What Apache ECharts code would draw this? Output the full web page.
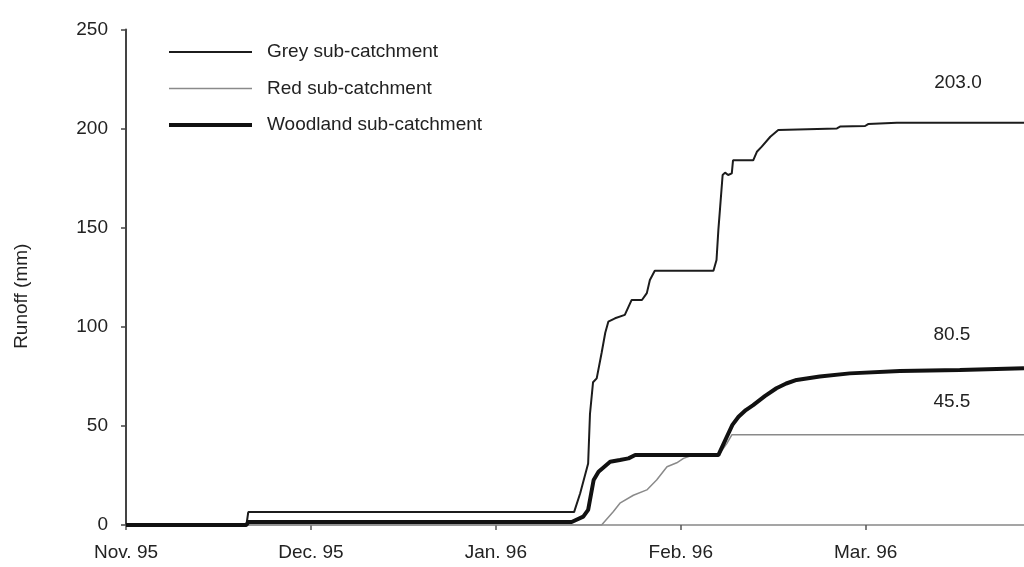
<!DOCTYPE html>
<html>
<head>
<meta charset="utf-8">
<script src="https://cdn.jsdelivr.net/npm/echarts@6/dist/echarts.min.js"></script>
<style>
html,body{margin:0;padding:0;background:#fff;}
#chart{width:1024px;height:567px;}
</style>
</head>
<body>
<div id="chart"></div>
<script>
// x values: days since 1 Nov 1995 (axis months drawn evenly, 30.25 days each)
const monthLabels = ['Nov. 95', 'Dec. 95', 'Jan. 96', 'Feb. 96', 'Mar. 96'];
const seriesNames = ['Grey sub-catchment', 'Red sub-catchment', 'Woodland sub-catchment'];
const finalLabels = [203.0, 45.5, 80.5];

const greyData = [
  [0, 0], [19.7, 0], [20, 6.5], [73.3, 6.5], [74.3, 16], [75.6, 31], [75.9, 56],
  [76.4, 72], [77.0, 74], [77.8, 86.8], [78.4, 97], [78.9, 102.6], [80.0, 104.3],
  [81.6, 106], [82.7, 113.5], [84.4, 113.5], [85.2, 117], [85.7, 123.6], [86.5, 128.3],
  [96.1, 128.3], [96.6, 133.7], [96.9, 148.8], [97.2, 160.6], [97.6, 176.6], [98.0, 177.8],
  [98.5, 176.6], [99.1, 177.4], [99.3, 184], [102.6, 184], [103.2, 188.3], [104.0, 190.9],
  [105.4, 195.9], [106.7, 199.3], [107.0, 200.1], [116.3, 200.1], [116.8, 201],
  [120.9, 201.3], [121.4, 202.3], [126.1, 203], [146.9, 203]
];
const redData = [
  [0, 0], [77.8, 0], [79.7, 6.7], [80.8, 11], [83.0, 15], [85.2, 17.7], [86.8, 22.7],
  [88.5, 29.4], [90.1, 31.4], [91.2, 33.6], [92.3, 34.8], [96.9, 35.0], [98.3, 41.2],
  [98.5, 40.5], [99.1, 45.5], [146.9, 45.5]
];
const woodlandData = [
  [0, 0], [19.7, 0], [20, 1.5], [72.9, 1.5], [74.8, 4.2], [75.6, 7.6], [76.5, 22.7],
  [77.3, 26.9], [77.5, 27.7], [79.2, 31.9], [80.8, 32.8], [82.2, 33.6], [83.3, 35.3],
  [96.9, 35.3], [98.3, 44.6], [99.2, 50.5], [100.2, 54.6], [101.4, 58], [102.6, 60.5],
  [104.5, 65], [106.4, 69], [108.0, 71.4], [109.7, 73.2], [113.5, 74.9], [118.4, 76.5],
  [126.6, 77.7], [136.4, 78.2], [136.6, 79.1], [146.9, 79.1]
];

const FONT = "'Liberation Sans', Arial, Helvetica, sans-serif";
const MONTH = 30.25;
const lineColors = ['#1c1c1c', '#8a8a8a', '#111'];
const lineWidths = [2, 1.5, 4];

function endMark(data, label, xPos, offY) {
  const last = data[data.length - 1];
  return {
    symbol: 'circle', symbolSize: 0, silent: true,
    itemStyle: { color: 'rgba(0,0,0,0)' },
    label: {
      show: true, position: 'inside', offset: [0, offY],
      formatter: label.toFixed(1), color: '#222', fontSize: 19, fontFamily: FONT
    },
    data: [{ coord: [xPos, last[1]] }]
  };
}

const chart = echarts.init(document.getElementById('chart'));
chart.setOption({
  animation: false,
  backgroundColor: '#fff',
  grid: { left: 126, right: 0, top: 29.5, bottom: 42 },
  legend: {
    orient: 'vertical', left: 167, top: 42, padding: 0,
    itemWidth: 83, itemHeight: 20, itemGap: 16.5,
    selectedMode: false,
    itemStyle: { opacity: 0 },
    textStyle: { fontSize: 19, fontFamily: FONT, color: '#222', padding: [0, 0, 0, 10], lineHeight: 20 },
    data: seriesNames.map(function (n, i) {
      return { name: n, lineStyle: { color: lineColors[i], width: lineWidths[i] } };
    })
  },
  xAxis: {
    type: 'value', min: 0, max: 146.9, interval: MONTH,
    axisLine: { show: true, lineStyle: { color: '#888', width: 1.5 } },
    axisTick: { show: true, length: 5, lineStyle: { color: '#555', width: 1.5 } },
    splitLine: { show: false },
    axisLabel: {
      margin: 18, fontSize: 19, fontFamily: FONT, color: '#222', showMaxLabel: false,
      formatter: function (v) {
        const i = Math.round(v / MONTH);
        return Math.abs(i * MONTH - v) < 0.01 && monthLabels[i] ? monthLabels[i] : '';
      }
    }
  },
  yAxis: {
    type: 'value', min: 0, max: 250, interval: 50,
    name: 'Runoff (mm)', nameLocation: 'middle', nameGap: 95,
    nameTextStyle: { fontSize: 19, fontFamily: FONT, color: '#222', padding: [0, 38, 0, 0] },
    axisLine: { show: true, lineStyle: { color: '#444', width: 2 } },
    axisTick: { show: true, length: 5, lineStyle: { color: '#444', width: 1.5 } },
    splitLine: { show: false },
    axisLabel: { margin: 18, fontSize: 19, fontFamily: FONT, color: '#222' }
  },
  series: [
    {
      name: seriesNames[0], type: 'line', data: greyData, symbol: 'none', showSymbol: false,
      lineStyle: { color: lineColors[0], width: lineWidths[0] }, itemStyle: { color: lineColors[0] }, z: 3,
      markPoint: endMark(greyData, finalLabels[0], 136.1, -40)
    },
    {
      name: seriesNames[1], type: 'line', data: redData, symbol: 'none', showSymbol: false,
      lineStyle: { color: lineColors[1], width: lineWidths[1] }, itemStyle: { color: lineColors[1] }, z: 2,
      markPoint: endMark(redData, finalLabels[1], 135.1, -33)
    },
    {
      name: seriesNames[2], type: 'line', data: woodlandData, symbol: 'none', showSymbol: false,
      lineStyle: { color: lineColors[2], width: lineWidths[2] }, itemStyle: { color: lineColors[2] }, z: 4,
      markPoint: endMark(woodlandData, finalLabels[2], 135.1, -33)
    }
  ]
});
</script>
</body>
</html>
